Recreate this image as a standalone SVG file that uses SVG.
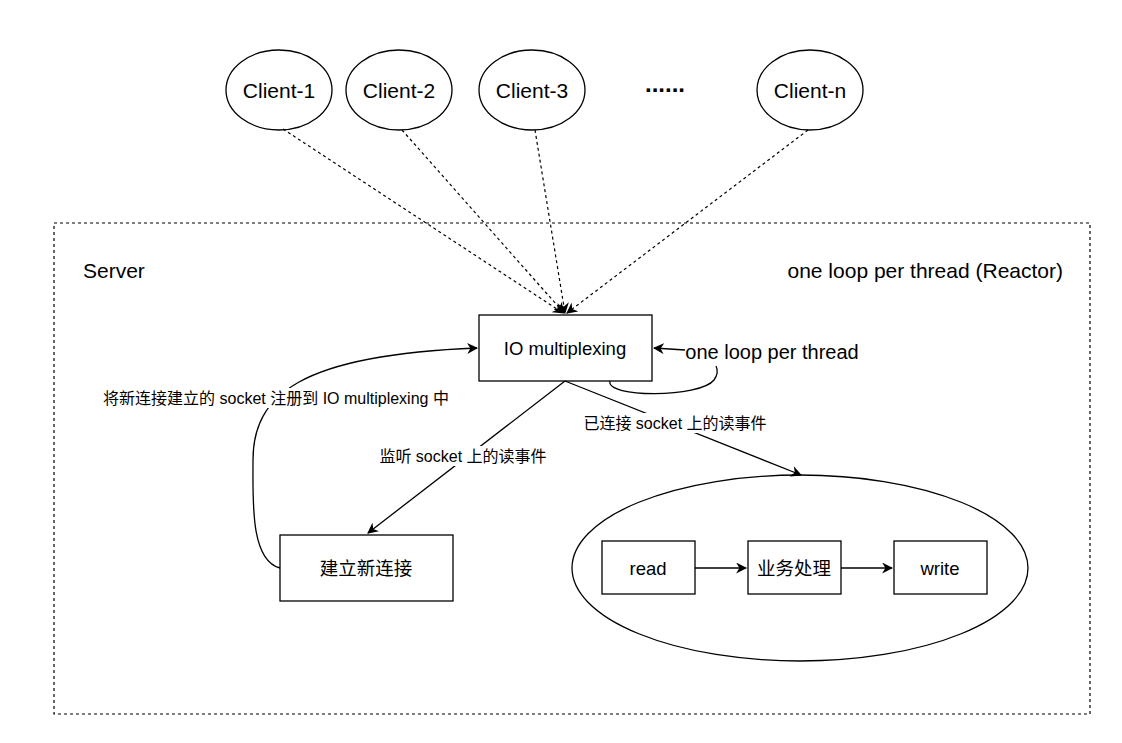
<svg xmlns="http://www.w3.org/2000/svg" width="1122" height="743" viewBox="0 0 1122 743">
<defs>
<marker id="arr" viewBox="0 0 10 10" refX="9" refY="5" markerWidth="11" markerHeight="11" markerUnits="userSpaceOnUse" orient="auto">
<path d="M0,0 L10,5 L0,10 L3,5 Z" fill="#000"/>
</marker>
</defs>
<style>
.n{fill:#fff;stroke:#000;stroke-width:1.3}
.t{font-family:"Liberation Sans","Noto Sans CJK SC",sans-serif;fill:#000;text-anchor:middle;dominant-baseline:central}
.big{font-size:21px}
.mid{font-size:18.5px}
.lbl{font-size:20px}
.sm{font-size:16px}
.e{fill:none;stroke:#000;stroke-width:1.3}
.d{fill:none;stroke:#000;stroke-width:1.2;stroke-dasharray:3,3}
.bgr{fill:#fff;stroke:none}
</style>
<rect width="1122" height="743" fill="#fff"/>
<g id="server">
<rect x="54" y="223" width="1036" height="491" fill="none" stroke="#000" stroke-width="1.2" stroke-dasharray="3,3"/>
<text class="t big" x="83" y="270" style="text-anchor:start">Server</text>
<text class="t big" x="1063" y="270" style="text-anchor:end">one loop per thread (Reactor)</text>
</g>
<g id="client-1"><ellipse class="n" cx="279" cy="90" rx="53" ry="40"/><text class="t big" x="279" y="90">Client-1</text></g>
<g id="client-2"><ellipse class="n" cx="399" cy="90" rx="53" ry="40"/><text class="t big" x="399" y="90">Client-2</text></g>
<g id="client-3"><ellipse class="n" cx="532" cy="90" rx="53" ry="40"/><text class="t big" x="532" y="90">Client-3</text></g>
<g id="dots"><text class="t" x="665" y="83" style="font-size:24px;font-weight:bold">......</text></g>
<g id="client-n"><ellipse class="n" cx="810" cy="90" rx="53" ry="40"/><text class="t big" x="810" y="90">Client-n</text></g>
<g id="io"><rect class="n" x="479" y="315" width="173" height="66"/><text class="t mid" x="565" y="348">IO multiplexing</text></g>
<g id="new-conn"><rect class="n" x="280" y="535" width="173" height="66"/><text class="t mid" x="366" y="568">建立新连接</text></g>
<g id="handler">
<ellipse class="n" cx="800" cy="568" rx="228" ry="93"/>
<rect class="n" x="602" y="541" width="93" height="53"/><text class="t mid" x="648" y="568">read</text>
<rect class="n" x="748" y="541" width="93" height="53"/><text class="t mid" x="794" y="568">业务处理</text>
<rect class="n" x="894" y="541" width="93" height="53"/><text class="t mid" x="940" y="568">write</text>
</g>
<g id="connectors">
<path class="d" d="M283,129 L563,313" marker-end="url(#arr)"/>
<path class="d" d="M402,130 L564,313" marker-end="url(#arr)"/>
<path class="d" d="M535,130 L565,313" marker-end="url(#arr)"/>
<path class="d" d="M808,130 L567,313" marker-end="url(#arr)"/>
<path class="e" d="M610,381 C605,398 700,398 714,380 C719,373 717,368 716,366"/>
<path class="e" d="M685,350 L654,348" marker-end="url(#arr)"/>
<text class="t lbl" x="772" y="352">one loop per thread</text>
<path class="e" d="M565,381 L368,533" marker-end="url(#arr)"/>
<rect class="bgr" x="379" y="446" width="168" height="20"/>
<text class="t sm" x="463" y="456">监听 socket 上的读事件</text>
<path class="e" d="M565,381 L801,475" marker-end="url(#arr)"/>
<rect class="bgr" x="584" y="413" width="182" height="20"/>
<text class="t sm" x="675" y="423">已连接 socket 上的读事件</text>
<path class="e" d="M280,568 C250,560 253,500 253,460 C253,395 300,355 477,348" marker-end="url(#arr)"/>
<rect class="bgr" x="103" y="388" width="346" height="20"/>
<text class="t sm" x="276" y="398">将新连接建立的 socket 注册到 IO multiplexing 中</text>
<path class="e" d="M695,568 L746,568" marker-end="url(#arr)"/>
<path class="e" d="M841,568 L892,568" marker-end="url(#arr)"/>
</g>
</svg>
